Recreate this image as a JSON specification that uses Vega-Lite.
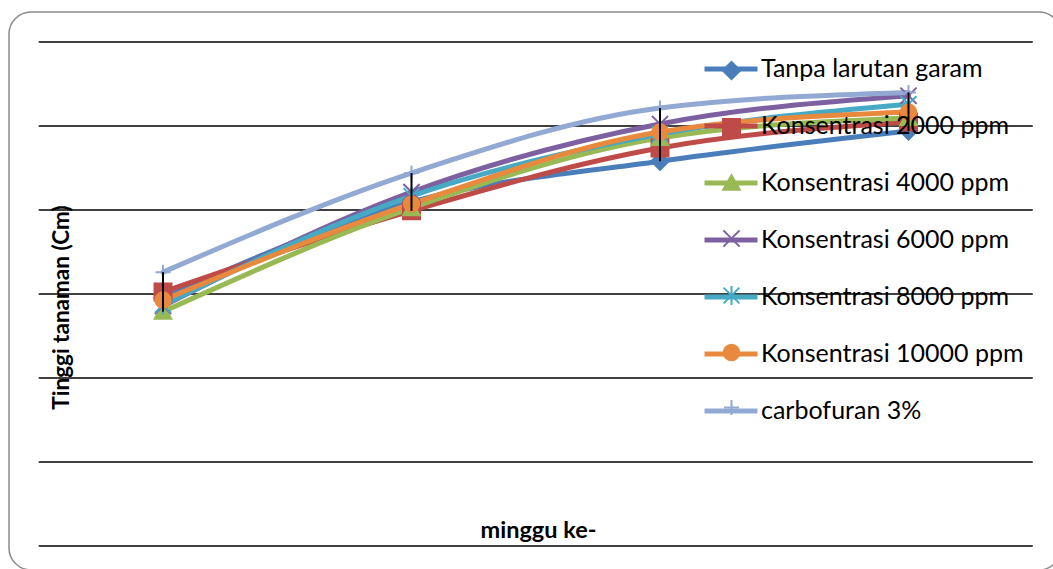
{
  "$schema": "https://vega.github.io/schema/vega-lite/v6.json",
  "width": 1052,
  "height": 558,
  "autosize": "none",
  "padding": {"left": 9, "top": 12, "right": 0, "bottom": 0},
  "background": "white",
  "config": {
    "view": {"stroke": "#8c8c8c", "strokeWidth": 1.5, "cornerRadius": 22},
    "font": "Lato"
  },
  "datasets": {
    "tinggi": [
      {"minggu": 1, "perlakuan": "Tanpa larutan garam", "tinggi": 14.76},
      {"minggu": 2, "perlakuan": "Tanpa larutan garam", "tinggi": 20.48},
      {"minggu": 3, "perlakuan": "Tanpa larutan garam", "tinggi": 22.9},
      {"minggu": 4, "perlakuan": "Tanpa larutan garam", "tinggi": 24.7},
      {"minggu": 1, "perlakuan": "Konsentrasi 2000 ppm", "tinggi": 15.12},
      {"minggu": 2, "perlakuan": "Konsentrasi 2000 ppm", "tinggi": 19.95},
      {"minggu": 3, "perlakuan": "Konsentrasi 2000 ppm", "tinggi": 23.69},
      {"minggu": 4, "perlakuan": "Konsentrasi 2000 ppm", "tinggi": 25.24},
      {"minggu": 1, "perlakuan": "Konsentrasi 4000 ppm", "tinggi": 13.95},
      {"minggu": 2, "perlakuan": "Konsentrasi 4000 ppm", "tinggi": 20.12},
      {"minggu": 3, "perlakuan": "Konsentrasi 4000 ppm", "tinggi": 24.29},
      {"minggu": 4, "perlakuan": "Konsentrasi 4000 ppm", "tinggi": 25.48},
      {"minggu": 1, "perlakuan": "Konsentrasi 6000 ppm", "tinggi": 14.29},
      {"minggu": 2, "perlakuan": "Konsentrasi 6000 ppm", "tinggi": 21.07},
      {"minggu": 3, "perlakuan": "Konsentrasi 6000 ppm", "tinggi": 25.12},
      {"minggu": 4, "perlakuan": "Konsentrasi 6000 ppm", "tinggi": 26.8},
      {"minggu": 1, "perlakuan": "Konsentrasi 8000 ppm", "tinggi": 14.35},
      {"minggu": 2, "perlakuan": "Konsentrasi 8000 ppm", "tinggi": 20.83},
      {"minggu": 3, "perlakuan": "Konsentrasi 8000 ppm", "tinggi": 24.52},
      {"minggu": 4, "perlakuan": "Konsentrasi 8000 ppm", "tinggi": 26.3},
      {"minggu": 1, "perlakuan": "Konsentrasi 10000 ppm", "tinggi": 14.64},
      {"minggu": 2, "perlakuan": "Konsentrasi 10000 ppm", "tinggi": 20.36},
      {"minggu": 3, "perlakuan": "Konsentrasi 10000 ppm", "tinggi": 24.64},
      {"minggu": 4, "perlakuan": "Konsentrasi 10000 ppm", "tinggi": 25.83},
      {"minggu": 1, "perlakuan": "carbofuran 3%", "tinggi": 16.3},
      {"minggu": 2, "perlakuan": "carbofuran 3%", "tinggi": 22.2},
      {"minggu": 3, "perlakuan": "carbofuran 3%", "tinggi": 26.07},
      {"minggu": 4, "perlakuan": "carbofuran 3%", "tinggi": 27.0}
    ],
    "garis": [
      {"nilai": 0}, {"nilai": 5}, {"nilai": 10}, {"nilai": 15},
      {"nilai": 20}, {"nilai": 25}, {"nilai": 30}
    ]
  },
  "layer": [
    {
      "data": {"name": "garis"},
      "mark": {"type": "rule", "color": "black", "strokeWidth": 1.6},
      "encoding": {
        "y": {
          "field": "nilai",
          "type": "quantitative",
          "scale": {"domain": [-1.4286, 31.7857], "nice": false, "zero": false},
          "axis": {
            "title": "Tinggi tanaman (Cm)",
            "labels": false, "ticks": false, "domain": false, "grid": false,
            "titleFont": "Lato", "titleFontSize": 22.5, "titleFontWeight": "bold", "titleColor": "black",
            "titleX": 52, "titleY": 295, "titleBaseline": "middle", "titleAlign": "center", "titleAngle": -90
          }
        },
        "x": {
          "datum": 0.5,
          "type": "quantitative",
          "scale": {"domain": [0.38028, 4.61368], "nice": false, "zero": false},
          "axis": {
            "title": "minggu ke-",
            "labels": false, "ticks": false, "domain": false, "grid": false,
            "titleFont": "Lato", "titleFontSize": 23.5, "titleFontWeight": "bold", "titleColor": "black",
            "titleX": 529, "titleY": -40, "titleBaseline": "middle", "titleAlign": "center"
          }
        },
        "x2": {"datum": 4.5}
      }
    },
    {
      "data": {"name": "tinggi"},
      "mark": {"type": "line", "interpolate": "monotone", "strokeWidth": 5, "strokeCap": "round"},
      "encoding": {
        "x": {"field": "minggu", "type": "quantitative"},
        "y": {"field": "tinggi", "type": "quantitative"},
        "color": {
          "field": "perlakuan",
          "type": "nominal",
          "scale": {
            "domain": ["Tanpa larutan garam", "Konsentrasi 2000 ppm", "Konsentrasi 4000 ppm", "Konsentrasi 6000 ppm", "Konsentrasi 8000 ppm", "Konsentrasi 10000 ppm", "carbofuran 3%"],
            "range": ["#4A7EBB", "#BE4B48", "#98B954", "#7D60A0", "#46AAC5", "#E8893E", "#92A9D3"]
          },
          "legend": {
            "title": null, "orient": "none", "legendX": 693, "legendY": 28, "padding": 0,
            "symbolType": "stroke", "symbolSize": 2809, "symbolStrokeWidth": 5,
            "labelFont": "Lato", "labelFontSize": 25, "labelColor": "black", "labelOffset": 1,
            "rowPadding": 15, "labelLimit": 400
          }
        }
      }
    },
    {
      "data": {"name": "tinggi"},
      "mark": {"type": "point", "filled": true, "strokeWidth": 2, "opacity": 1},
      "encoding": {
        "x": {"field": "minggu", "type": "quantitative"},
        "y": {"field": "tinggi", "type": "quantitative"},
        "color": {
          "field": "perlakuan",
          "type": "nominal",
          "scale": {
            "domain": ["Tanpa larutan garam", "Konsentrasi 2000 ppm", "Konsentrasi 4000 ppm", "Konsentrasi 6000 ppm", "Konsentrasi 8000 ppm", "Konsentrasi 10000 ppm", "carbofuran 3%"],
            "range": ["#4A7EBB", "#BE4B48", "#98B954", "#7D60A0", "#46AAC5", "#E8893E", "#92A9D3"]
          },
          "legend": {
            "title": null, "orient": "none", "legendX": 711, "legendY": 47, "padding": 0,
            "labelFont": "Lato", "labelFontSize": 23, "labelOpacity": 0, "rowPadding": 31, "symbolStrokeWidth": 2
          }
        },
        "stroke": {
          "field": "perlakuan",
          "type": "nominal",
          "scale": {
            "domain": ["Tanpa larutan garam", "Konsentrasi 2000 ppm", "Konsentrasi 4000 ppm", "Konsentrasi 6000 ppm", "Konsentrasi 8000 ppm", "Konsentrasi 10000 ppm", "carbofuran 3%"],
            "range": ["#4A7EBB", "#BE4B48", "#98B954", "#7D60A0", "#46AAC5", "#E8893E", "#92A9D3"]
          },
          "legend": {
            "title": null, "orient": "none", "legendX": 711, "legendY": 47, "padding": 0,
            "labelFont": "Lato", "labelFontSize": 23, "labelOpacity": 0, "rowPadding": 31, "symbolStrokeWidth": 2
          }
        },
        "shape": {
          "field": "perlakuan",
          "type": "nominal",
          "scale": {
            "domain": ["Tanpa larutan garam", "Konsentrasi 2000 ppm", "Konsentrasi 4000 ppm", "Konsentrasi 6000 ppm", "Konsentrasi 8000 ppm", "Konsentrasi 10000 ppm", "carbofuran 3%"],
            "range": ["diamond", "square", "triangle-up", "M-1,-1L1,1M-1,1L1,-1", "M-1,-1L1,1M-1,1L1,-1M0,-1.2L0,1.2", "circle", "M-1,0L1,0M0,-1L0,1"]
          },
          "legend": {
            "title": null, "orient": "none", "legendX": 711, "legendY": 47, "padding": 0,
            "labelFont": "Lato", "labelFontSize": 23, "labelOpacity": 0, "rowPadding": 31, "symbolStrokeWidth": 2
          }
        },
        "size": {
          "field": "perlakuan",
          "type": "ordinal",
          "scale": {
            "domain": ["Tanpa larutan garam", "Konsentrasi 2000 ppm", "Konsentrasi 4000 ppm", "Konsentrasi 6000 ppm", "Konsentrasi 8000 ppm", "Konsentrasi 10000 ppm", "carbofuran 3%"],
            "range": [300, 225, 256, 196, 196, 400, 484]
          },
          "legend": {
            "title": null, "orient": "none", "legendX": 711, "legendY": 47, "padding": 0,
            "labelFont": "Lato", "labelFontSize": 23, "labelOpacity": 0, "rowPadding": 31, "symbolStrokeWidth": 2
          }
        }
      }
    },
    {
      "data": {"name": "tinggi"},
      "mark": {"type": "rule", "color": "black", "strokeWidth": 2},
      "encoding": {
        "x": {"field": "minggu", "type": "quantitative"},
        "y": {"aggregate": "min", "field": "tinggi", "type": "quantitative"},
        "y2": {"aggregate": "max", "field": "tinggi"}
      }
    }
  ],
  "resolve": {
    "scale": {"color": "independent", "shape": "independent", "stroke": "independent", "size": "independent"},
    "legend": {"color": "independent", "shape": "independent", "stroke": "independent", "size": "independent"}
  }
}
